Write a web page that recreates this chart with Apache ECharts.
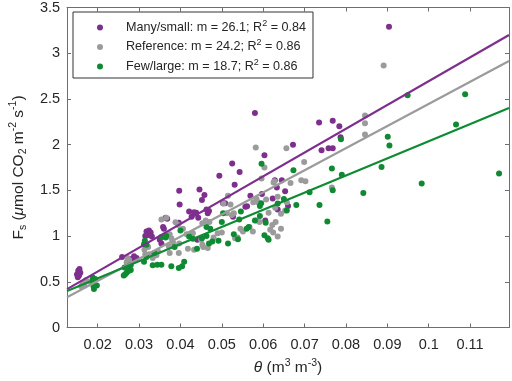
<!DOCTYPE html>
<html>
<head>
<meta charset="utf-8">
<script src="https://cdn.jsdelivr.net/npm/echarts@6/dist/echarts.min.js"></script>
<style>
  html, body { margin: 0; padding: 0; background: #fff; }
  #main { width: 512px; height: 381px; }
</style>
</head>
<body>
<div id="main"></div>
<script>
// series names + legend numbers
var seriesNames = ['Many/small', 'Reference', 'Few/large'];
var slopeText = ['26.1', '24.2', '18.7'];
var r2Text = ['0.84', '0.86', '0.86'];
var colors = ['#7E2F8E', '#9B9B9B', '#0F8A33'];

var xTicks = [0.02, 0.03, 0.04, 0.05, 0.06, 0.07, 0.08, 0.09, 0.1, 0.11];

// theta, Fs
var manySmall = [
  [0.0150,0.58],[0.0153,0.62],[0.0156,0.64],[0.0158,0.60],[0.0152,0.55],[0.0155,0.57],
  [0.0259,0.77],[0.0284,0.755],[0.0288,0.78],[0.0294,0.76],
  [0.0315,1.00],[0.0318,1.05],[0.0320,1.01],[0.0324,1.06],[0.0328,1.04],[0.0331,0.995],
  [0.0350,0.96],[0.0354,0.92],[0.0358,1.10],[0.0360,1.08],[0.0368,1.19],[0.0364,1.20],
  [0.0396,1.145],[0.0397,1.495],[0.0398,1.345],[0.0421,1.27],[0.0427,1.21],[0.0433,1.26],
  [0.0438,1.255],[0.0441,0.96],[0.0443,1.20],[0.0446,1.51],[0.0452,1.395],[0.0458,1.45],
  [0.0463,1.29],[0.0469,1.275],[0.0466,1.25],
  [0.0494,1.66],[0.0503,1.36],[0.0508,1.36],[0.0525,1.795],[0.0527,1.21],[0.0531,1.56],
  [0.0543,1.70],[0.0557,1.32],[0.0561,1.325],[0.0569,1.44],[0.0580,2.346],
  [0.0597,1.46],[0.0603,1.885],[0.0605,1.17],[0.0623,1.41],[0.0628,1.61],[0.0633,1.53],
  [0.0635,1.29],[0.0645,1.61],[0.0653,1.49],[0.0660,1.33],[0.0672,2.0],
  [0.0735,2.243],[0.0741,1.94],[0.0758,1.96],[0.0768,1.96],[0.0768,2.26],[0.0784,2.20],
  [0.0787,2.08],[0.0904,3.29]
];
var reference = [
  [0.0160,0.45],[0.0164,0.48],[0.0168,0.46],[0.0172,0.52],[0.0181,0.50],
  [0.0270,0.715],[0.0276,0.737],[0.0272,0.76],
  [0.0313,0.85],[0.0315,0.80],[0.0325,0.80],[0.0322,0.88],[0.0333,0.76],[0.0342,0.79],
  [0.0346,0.83],[0.0354,1.18],[0.0366,1.20],[0.0374,1.02],[0.0378,0.976],[0.0382,0.93],
  [0.0374,0.815],[0.0372,0.887],[0.0388,1.15],
  [0.0396,0.815],[0.0397,0.92],[0.0394,1.12],[0.0406,1.08],[0.0415,1.02],[0.0430,1.03],
  [0.0418,0.86],[0.0433,0.85],[0.0450,0.96],[0.0453,0.905],[0.0453,1.14],[0.0461,1.17],
  [0.0455,0.88],[0.0466,0.87],[0.0470,1.155],[0.0480,0.984],[0.0490,1.03],[0.0500,1.04],
  [0.0504,1.355],[0.0515,1.44],[0.0521,1.345],[0.0512,1.25],[0.0524,1.23],[0.0529,1.25],
  [0.0532,0.976],[0.0538,0.984],[0.0545,1.08],[0.0551,1.05],[0.0567,1.10],[0.0575,1.05],
  [0.0576,1.37],[0.0584,1.405],[0.0587,1.37],[0.0582,1.97],[0.0584,1.17],[0.0591,1.155],
  [0.0596,1.63],[0.0603,1.75],[0.0607,1.40],[0.0613,1.255],[0.0617,1.07],[0.0622,1.12],
  [0.0627,1.60],[0.0625,1.585],[0.0629,1.31],[0.0635,1.43],[0.0624,1.04],[0.0635,0.995],
  [0.0643,1.08],[0.0630,1.155],[0.0643,1.245],[0.0656,1.96],[0.0653,1.28],[0.0657,1.37],
  [0.0666,1.58],[0.0692,1.61],[0.0699,1.81],[0.0702,1.60],[0.0766,1.53],
  [0.0846,2.318],[0.0846,2.235],[0.0846,2.11],[0.0891,2.865]
];
var fewLarge = [
  [0.0188,0.547],[0.0188,0.504],[0.0191,0.42],[0.0190,0.45],[0.0198,0.46],[0.0194,0.53],
  [0.0263,0.57],[0.0266,0.58],[0.0270,0.60],[0.0276,0.62],[0.0280,0.63],[0.0265,0.655],
  [0.0276,0.67],[0.0280,0.683],
  [0.0314,0.95],[0.0312,0.91],[0.0318,0.905],[0.0312,0.72],[0.0318,0.77],[0.0333,0.68],
  [0.0344,0.685],[0.0354,0.685],[0.0337,0.815],[0.0354,0.99],[0.0364,0.985],[0.0366,1.0],
  [0.0378,0.67],[0.0396,0.65],[0.0404,0.67],[0.0409,0.72],[0.0386,0.88],[0.0400,1.06],
  [0.0421,0.995],[0.0430,0.97],[0.0440,0.86],[0.0452,0.976],[0.0463,1.0],[0.0463,1.10],
  [0.0472,1.08],[0.0469,0.92],[0.0477,0.94],[0.0492,0.95],[0.0503,1.25],[0.0500,1.155],
  [0.0515,0.92],[0.0529,1.02],[0.0539,0.965],[0.0542,1.18],[0.0546,1.27],[0.0565,1.10],
  [0.0560,1.08],[0.0580,1.17],[0.0592,1.22],[0.0592,1.33],[0.0595,1.36],[0.0596,1.79],
  [0.0606,1.145],[0.0603,1.01],[0.0611,0.976],[0.0613,0.96],[0.0635,1.355],[0.0650,1.405],
  [0.0657,1.28],[0.0673,1.72],[0.0680,1.34],[0.0712,1.48],[0.0736,1.34],[0.0755,1.16],
  [0.0766,1.74],[0.0768,1.50],[0.0788,2.06],[0.0790,1.67],[0.0842,1.47],[0.0886,1.756],
  [0.0901,2.085],[0.0905,1.99],[0.0949,2.54],[0.0983,1.574],[0.1066,2.22],[0.1088,2.55],
  [0.1170,1.685]
];

// fitted lines, end points
var fitManySmall = [[0.0126, 0.42], [0.1194, 3.20]];
var fitReference = [[0.0126, 0.33], [0.1194, 2.915]];
var fitFewLarge = [[0.0126, 0.40], [0.1194, 2.40]];

var chart = echarts.init(document.getElementById('main'));

var axisColor = '#6E6E6E';
var txtColor = '#262626';
var fontFam = '"Liberation Sans", Arial, sans-serif';

// legend text
var richLegend = {
  sp: { width: 18, lineHeight: 17 },
  t: { fontSize: 12.6, lineHeight: 17, color: txtColor, fontFamily: fontFam },
  sup: { fontSize: 9, lineHeight: 10, verticalAlign: 'top', color: txtColor, fontFamily: fontFam }
};
// axis names
var richName = {
  t: { fontSize: 15.5, lineHeight: 21, color: txtColor, fontFamily: fontFam },
  i: { fontSize: 15.5, lineHeight: 21, color: txtColor, fontFamily: fontFam, fontStyle: 'italic' },
  sup: { fontSize: 10.5, lineHeight: 12, verticalAlign: 'top', color: txtColor, fontFamily: fontFam },
  sub: { fontSize: 10.5, lineHeight: 12, verticalAlign: 'bottom', color: txtColor, fontFamily: fontFam }
};

function scatterSeries(idx, data) {
  return {
    name: seriesNames[idx],
    type: 'scatter',
    data: data,
    symbol: 'circle',
    symbolSize: 6,
    itemStyle: { color: colors[idx], opacity: 1 },
    silent: true
  };
}
function fitSeries(idx, data) {
  return {
    name: 'fit' + idx,
    type: 'line',
    data: data,
    symbol: 'none',
    lineStyle: { color: colors[idx], width: 2.2 },
    silent: true
  };
}

var option = {
  animation: false,
  backgroundColor: '#fff',
  grid: { left: 59, right: 3, top: 5, bottom: 50 },
  legend: {
    data: seriesNames,
    orient: 'vertical',
    left: 73,
    top: 12,
    padding: [7, 7, 5, 24],
    itemGap: 4.5,
    itemWidth: 6,
    itemHeight: 6,
    icon: 'circle',
    backgroundColor: '#fff',
    borderColor: '#333',
    borderWidth: 1,
    selectedMode: false,
    formatter: function (name) {
      var k = seriesNames.indexOf(name);
      return '{sp|}{t|' + name + ': m = ' + slopeText[k] + '; R}{sup|2}{t| = ' + r2Text[k] + '}';
    },
    textStyle: { rich: richLegend }
  },
  xAxis: [{
    type: 'value',
    min: 0.0126,
    max: 0.1194,
    position: 'bottom',
    name: '{i|θ}{t| (m}{sup|3}{t| m}{sup|-3}{t|)}',
    nameLocation: 'middle',
    nameGap: 30,
    nameTextStyle: { rich: richName },
    axisLine: { onZero: false, lineStyle: { color: axisColor, width: 1 } },
    axisTick: { inside: true, length: 4, customValues: xTicks, lineStyle: { color: axisColor } },
    axisLabel: { customValues: xTicks, color: txtColor, fontSize: 14.5, fontFamily: fontFam, margin: 10 },
    splitLine: { show: false }
  }, {
    type: 'value',
    min: 0.0126,
    max: 0.1194,
    position: 'top',
    axisLine: { onZero: false, lineStyle: { color: axisColor, width: 1 } },
    axisTick: { inside: true, length: 4, customValues: xTicks, lineStyle: { color: axisColor } },
    axisLabel: { show: false },
    splitLine: { show: false }
  }],
  yAxis: [{
    type: 'value',
    min: 0,
    max: 3.5,
    interval: 0.5,
    position: 'left',
    name: '{t|F}{sub|s}{t| (}{i|μ}{t|mol CO}{sub|2}{t| m}{sup|-2}{t| s}{sup|-1}{t|)}',
    nameLocation: 'middle',
    nameGap: 36,
    nameRotate: 90,
    nameTextStyle: { rich: richName },
    axisLine: { show: true, onZero: false, lineStyle: { color: axisColor, width: 1 } },
    axisTick: { show: true, inside: true, length: 4, lineStyle: { color: axisColor } },
    axisLabel: { color: txtColor, fontSize: 14.5, fontFamily: fontFam, margin: 7 },
    splitLine: { show: false }
  }, {
    type: 'value',
    min: 0,
    max: 3.5,
    interval: 0.5,
    position: 'right',
    axisLine: { show: true, onZero: false, lineStyle: { color: axisColor, width: 1 } },
    axisTick: { show: true, inside: true, length: 4, lineStyle: { color: axisColor } },
    axisLabel: { show: false },
    splitLine: { show: false }
  }],
  series: [
    scatterSeries(0, manySmall),
    scatterSeries(1, reference),
    scatterSeries(2, fewLarge),
    fitSeries(0, fitManySmall),
    fitSeries(1, fitReference),
    fitSeries(2, fitFewLarge)
  ]
};

chart.setOption(option);
</script>
</body>
</html>
